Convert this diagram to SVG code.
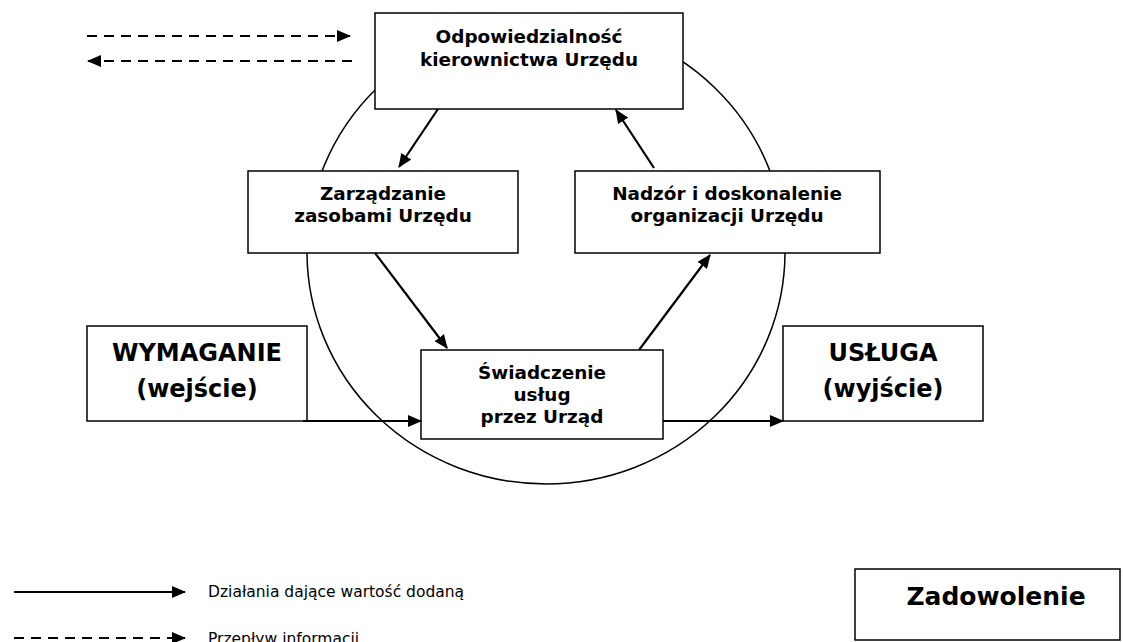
<svg xmlns="http://www.w3.org/2000/svg" width="1123" height="642" viewBox="0 0 1123 642">
<style>
.box{fill:#fff;stroke:#000;stroke-width:1.5}
.lbl{font-family:"DejaVu Sans",Verdana,sans-serif;font-weight:bold;font-size:18.4px;text-anchor:middle;fill:#000}
.big{font-family:"DejaVu Sans",Verdana,sans-serif;font-weight:bold;font-size:24px;text-anchor:middle;fill:#000}
.leg{font-family:"DejaVu Sans",Verdana,sans-serif;font-size:15.5px;fill:#000}
.con{stroke:#000;stroke-width:2.2;fill:none;marker-end:url(#ah)}
.dash{stroke-dasharray:10 7}
</style>
<defs>
<marker id="ah" markerUnits="userSpaceOnUse" markerWidth="14" markerHeight="12" refX="13" refY="6" orient="auto">
<path d="M0,0 L14,6 L0,12 z" fill="#000"/>
</marker>
</defs>
<ellipse cx="546" cy="252" rx="239" ry="232" fill="none" stroke="#000" stroke-width="1.5"/>
<g id="top">
<rect class="box" x="375" y="13" width="308" height="96"/>
<text class="lbl" x="529" y="43">Odpowiedzialność</text>
<text class="lbl" x="529" y="66">kierownictwa Urzędu</text>
</g>
<g id="zarzadzanie">
<rect class="box" x="248" y="171" width="270" height="82"/>
<text class="lbl" x="383" y="200">Zarządzanie</text>
<text class="lbl" x="383" y="222">zasobami Urzędu</text>
</g>
<g id="nadzor">
<rect class="box" x="575" y="171" width="305" height="82"/>
<text class="lbl" x="727" y="200">Nadzór i doskonalenie</text>
<text class="lbl" x="727" y="222">organizacji Urzędu</text>
</g>
<g id="swiadczenie">
<rect class="box" x="421" y="350" width="242" height="89"/>
<text class="lbl" x="542" y="379">Świadczenie</text>
<text class="lbl" x="542" y="401">usług</text>
<text class="lbl" x="542" y="423">przez Urząd</text>
</g>
<g id="wymaganie">
<rect class="box" x="87" y="326" width="220" height="95"/>
<text class="big" x="197" y="361">WYMAGANIE</text>
<text class="big" x="197" y="397">(wejście)</text>
</g>
<g id="usluga">
<rect class="box" x="783" y="326" width="200" height="95"/>
<text class="big" x="883" y="361">USŁUGA</text>
<text class="big" x="883" y="397">(wyjście)</text>
</g>
<g id="zadowolenie">
<rect class="box" x="855" y="569" width="265" height="71"/>
<text class="big" x="996" y="605" style="font-size:25px">Zadowolenie</text>
</g>
<g id="connectors">
<line class="con" x1="438" y1="109" x2="399" y2="167"/>
<line class="con" x1="654" y1="168" x2="616" y2="110"/>
<line class="con" x1="375" y1="253" x2="447" y2="348"/>
<line class="con" x1="639" y1="350" x2="710" y2="255"/>
<line class="con" x1="303" y1="421" x2="421" y2="421"/>
<line class="con" x1="663" y1="421" x2="783" y2="421"/>
<line class="con dash" x1="87" y1="36" x2="350" y2="36"/>
<line class="con dash" x1="352" y1="61" x2="88" y2="61"/>
</g>
<g id="legend">
<line class="con" x1="14" y1="592" x2="185" y2="592"/>
<text class="leg" x="208" y="597">Działania dające wartość dodaną</text>
<line class="con dash" x1="14" y1="638" x2="185" y2="638"/>
<text class="leg" x="208" y="644">Przepływ informacji</text>
</g>
</svg>
